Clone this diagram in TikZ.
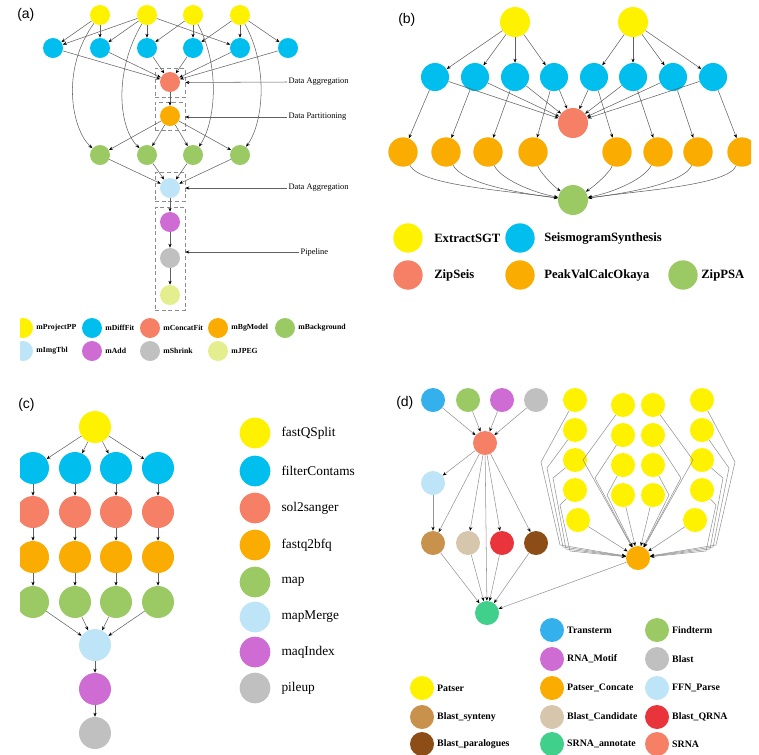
\documentclass[tikz,border=0pt]{standalone}
\usepackage{fontspec}
\setmainfont{Liberation Serif}
\newfontfamily\panelfont{Liberation Sans}
\usetikzlibrary{arrows.meta,positioning}
\definecolor{cyellow}{RGB}{255,242,0}
\definecolor{cblue}{RGB}{0,190,238}
\definecolor{csalmon}{RGB}{245,128,102}
\definecolor{corange}{RGB}{250,172,0}
\definecolor{cgreen}{RGB}{155,202,100}
\definecolor{clightblue}{RGB}{190,228,248}
\definecolor{cpurple}{RGB}{206,108,212}
\definecolor{cgrey}{RGB}{192,192,192}
\definecolor{clime}{RGB}{228,238,142}
\definecolor{ctan}{RGB}{200,146,76}
\definecolor{cbeige}{RGB}{214,198,172}
\definecolor{cred}{RGB}{232,52,58}
\definecolor{cbrown}{RGB}{140,78,22}
\definecolor{cmint}{RGB}{64,208,140}
\definecolor{csky}{RGB}{52,176,236}

\begin{document}
\begin{tikzpicture}[x=0.75pt,y=0.75pt,yscale=-1,xscale=1,
  job/.style={circle,inner sep=0pt,minimum size=#1},
  flow/.style={draw=black!62,line width=0.4pt,-{Stealth[length=3pt,width=2.4pt,color=black]}},
  flowd/.style={flow,draw=black!42},
  grpbox/.style={draw=black!45,densely dashed,line width=0.4pt,inner sep=0pt},
  note/.style={anchor=west,inner sep=1pt,font=\fontsize{6.3}{7}\selectfont},
  legA/.style={inner sep=0pt,font=\fontsize{5.8}{7}\selectfont\bfseries},
  legB/.style={anchor=west,inner sep=0pt,font=\fontsize{9.5}{11}\selectfont\bfseries},
  legC/.style={inner sep=0pt,font=\fontsize{10}{12}\selectfont},
  legD/.style={inner sep=0pt,font=\fontsize{7.4}{9}\selectfont\bfseries},
  panel/.style={anchor=west,inner sep=0pt,font=\panelfont\fontsize{10.5}{12}\selectfont}]
\useasboundingbox (0,0) rectangle (759,754);

% Panel labels
\node[panel] (la) at (17,15) {(a)};
\node[panel] (lb) at (398,20) {(b)};
\node[panel] (lc) at (18,405) {(c)};
\node[panel] (ld) at (396,403) {(d)};

\begin{scope}
\clip (20,0) rectangle (751,754);

%%%%%%%% (a)
\foreach \i/\x in {1/100,2/147,3/193,4/240}
  \node[job=15pt,fill=cyellow] (ay\i) at (\x,15) {};
\foreach \i/\x in {1/53,2/100,3/147,4/193,5/240,6/288}
  \node[job=15pt,fill=cblue] (ab\i) at (\x,48) {};
\foreach \i/\x in {1/100,2/147,3/193,4/240}
  \node[job=15pt,fill=cgreen] (ag\i) at (\x,155) {};
\node[job=15pt,fill=csalmon] (ac) at (170,82) {};
\node[job=15pt,fill=corange] (ao) at (170,116) {};
\node[job=15pt,fill=clightblue] (ai) at (170,188) {};
\node[job=15pt,fill=cpurple] (ad) at (170,222) {};
\node[job=15pt,fill=cgrey] (as) at (170,258) {};
\node[job=15pt,fill=clime] (aj) at (170,295) {};

%Shape: dashed group boxes
\node[grpbox,minimum width=22.5pt,minimum height=22pt] (abox1) at (170,82.5) {};
\node[grpbox,minimum width=22.5pt,minimum height=21pt] (abox2) at (170,116) {};
\node[grpbox,minimum width=22.5pt,minimum height=22pt] (abox3) at (170,187) {};
\node[grpbox,minimum width=22.5pt,minimum height=77pt] (abox4) at (170,258.5) {};

\foreach \a/\b in {1/1,1/2,2/1,2/2,2/3,2/5,3/3,3/4,4/4,4/5,4/6}
  \draw[flow] (ay\a) -- (ab\b);
\draw[flow] (ay1) .. controls (60,70) and (72,130) .. (ag1);
\draw[flow] (ay2) .. controls (112,75) and (120,130) .. (ag2);
\draw[flow] (ay3) .. controls (222,70) and (214,125) .. (ag3);
\draw[flow] (ay4) .. controls (270,70) and (262,125) .. (ag4);
\foreach \b in {1,...,6}
  \draw[flow] (ab\b) -- (ac);
\draw[flow] (ac) -- (ao);
\foreach \g in {1,...,4} {
  \draw[flow] (ao) -- (ag\g);
  \draw[flow] (ag\g) -- (ai);
}
\draw[flow] (ai) -- (ad);
\draw[flow] (ad) -- (as);
\draw[flow] (as) -- (aj);

% Text Node
\node[note] (an1) at (287,82) {Data Aggregation};
\node[note] (an2) at (287,117) {Data Partitioning};
\node[note] (an3) at (287,188) {Data Aggregation};
\node[note] (an4) at (299,252) {Pipeline};
\draw[flow] (an1.west) -- (abox1.east);
\draw[flow] (an2.west) -- (abox2.east |- an2.west);
\draw[flow] (an3.west) -- (abox3.east |- an3.west);
\draw[flow] (an4.west) -- (abox4.east |- an4.west);

% legend (a)
\foreach \n/\x/\y/\c/\t in {1/23/328/cyellow/mProjectPP,2/92/328/cblue/mDiffFit,
    3/150/328/csalmon/mConcatFit,4/218/328/corange/mBgModel,5/285/328/cgreen/mBackground,
    6/23/351/clightblue/mImgTbl,7/92/351/cpurple/mAdd,8/150/351/cgrey/mShrink,9/218/351/clime/mJPEG} {
  \node[job=15pt,fill=\c] (ak\n) at (\x,\y) {};
  \node[legA,right=2.2pt of ak\n] (akt\n) {\t};
}

%%%%%%%% (b)
\foreach \i/\x in {1/515,2/633}
  \node[job=22.5pt,fill=cyellow] (by\i) at (\x,22) {};
\foreach \i/\x in {1/435,2/475,3/515,4/554,5/594,6/633,7/673,8/713}
  \node[job=21pt,fill=cblue] (bs\i) at (\x,77) {};
\foreach \i/\x in {1/403,2/446,3/488,4/533,5/617,6/658,7/698,8/742}
  \node[job=22pt,fill=corange] (bo\i) at (\x,152) {};
\node[job=22.5pt,fill=csalmon] (bz) at (573,123) {};
\node[job=22.5pt,fill=cgreen] (bp) at (573,200) {};

\foreach \i in {1,...,4}
  \draw[flow] (by1) -- (bs\i);
\foreach \i in {5,...,8}
  \draw[flow] (by2) -- (bs\i);
\foreach \i in {1,...,8} {
  \draw[flow] (bs\i) -- (bz);
  \draw[flow] (bs\i) -- (bo\i);
}
\draw[flow] (bo1) .. controls (420,185) and (500,190) .. (bp);
\draw[flow] (bo2) .. controls (462,182) and (510,192) .. (bp);
\draw[flow] (bo3) .. controls (500,178) and (530,192) .. (bp);
\draw[flow] (bo4) .. controls (540,172) and (552,185) .. (bp);
\draw[flow] (bo5) .. controls (610,172) and (596,185) .. (bp);
\draw[flow] (bo6) .. controls (645,178) and (616,192) .. (bp);
\draw[flow] (bo7) .. controls (684,182) and (636,192) .. (bp);
\draw[flow] (bo8) .. controls (728,185) and (646,190) .. (bp);

% legend (b)
\node[job=22pt,fill=cyellow] (bk1) at (408,238) {};
\node[legB] (bkt1) at (434,238) {ExtractSGT};
\node[job=22pt,fill=cblue] (bk2) at (520,238) {};
\node[legB] (bkt2) at (544,238) {SeismogramSynthesis};
\node[job=22pt,fill=csalmon] (bk3) at (408,275) {};
\node[legB] (bkt3) at (434,275) {ZipSeis};
\node[job=22pt,fill=corange] (bk4) at (520,275) {};
\node[legB] (bkt4) at (544,275) {PeakValCalcOkaya};
\node[job=22pt,fill=cgreen] (bk5) at (683,275) {};
\node[legB] (bkt5) at (701,275) {ZipPSA};

%%%%%%%% (c)
\node[job=24pt,fill=cyellow] (cy) at (95,427) {};
\node[job=24pt,fill=clightblue] (cm) at (95,645) {};
\node[job=24pt,fill=cpurple] (ci) at (95,689) {};
\node[job=24pt,fill=cgrey] (cu) at (95,733) {};
\foreach \i/\x in {1/33,2/75,3/116,4/158} {
  \node[job=24pt,fill=cblue] (cb\i) at (\x,468) {};
  \node[job=24pt,fill=csalmon] (cr\i) at (\x,512) {};
  \node[job=24pt,fill=corange] (co\i) at (\x,557) {};
  \node[job=24pt,fill=cgreen] (cg\i) at (\x,602) {};
  \draw[flow] (cy) -- (cb\i);
  \draw[flow] (cb\i) -- (cr\i);
  \draw[flow] (cr\i) -- (co\i);
  \draw[flow] (co\i) -- (cg\i);
  \draw[flow] (cg\i) -- (cm);
}
\draw[flow] (cm) -- (ci);
\draw[flow] (ci) -- (cu);

% legend (c)
\foreach \n/\y/\c/\t in {1/433/cyellow/fastQSplit,2/471/cblue/filterContams,3/508/csalmon/sol2sanger,
    4/545/corange/fastq2bfq,5/582/cgreen/map,6/617/clightblue/mapMerge,7/652/cpurple/maqIndex,8/688/cgrey/pileup} {
  \node[job=23pt,fill=\c] (ck\n) at (255,\y) {};
  \node[legC,right=8pt of ck\n] (ckt\n) {\t};
}

%%%%%%%% (d)
\foreach \i/\x/\c in {1/433/csky,2/468/cgreen,3/502/cpurple,4/536/cgrey}
  \node[job=18pt,fill=\c] (dt\i) at (\x,400) {};
\foreach \i/\x/\c in {1/433/ctan,2/468/cbeige,3/502/cred,4/536/cbrown}
  \node[job=18pt,fill=\c] (db\i) at (\x,543) {};
\node[job=18pt,fill=csalmon] (ds) at (485,443) {};
\node[job=18pt,fill=clightblue] (df) at (433,483) {};
\node[job=18pt,fill=cmint] (da) at (487,613) {};
\node[job=18pt,fill=corange] (dc) at (638,558) {};

% Patser jobs
\foreach \i/\x/\y in {1/575/400,2/575/430,3/575/460,4/575/490,5/578/520,
    6/623/405,7/623/435,8/623/465,9/623/495,
    10/653/405,11/653/435,12/653/465,13/653/495,
    14/702/400,15/702/430,16/702/460,17/702/490,18/695/520}
  \node[job=18pt,fill=cyellow] (dp\i) at (\x,\y) {};

\foreach \i in {1,...,4} {
  \draw[flowd] (dt\i) -- (ds);
  \draw[flowd] (ds) -- (db\i);
  \draw[flowd] (db\i) -- (da);
}
\draw[flowd] (ds) -- (df);
\draw[flowd] (df) -- (db1);
\draw[flowd] (ds) -- (da);
\draw[flowd] (dc) -- (da);

% fan into Patser_Concate
\foreach \i/\ax/\ay/\bx/\by in {1/541/462/560/545,2/547/468/563/547,3/553/478/566/549,4/560/505/570/551,
    14/735/462/716/545,15/729/468/713/547,16/723/478/710/549,17/716/505/706/551}
  \draw[flowd] (dp\i) -- (\ax,\ay) -- (\bx,\by) -- (dc);
\foreach \i/\ax/\ay in {6/583/460,7/595/478,8/607/495,10/693/460,11/681/478,12/669/495}
  \draw[flowd] (dp\i) -- (\ax,\ay) -- (dc);
\foreach \i in {5,9,13,18}
  \draw[flowd] (dp\i) -- (dc);

% legend (d)
\foreach \n/\x/\y/\c/\t in {1/422/688/cyellow/Patser,2/422/717/ctan/Blast\_synteny,3/422/744/cbrown/Blast\_paralogues,
    4/552/630/csky/Transterm,5/552/659/cpurple/RNA\_Motif,6/552/688/corange/Patser\_Concate,
    7/552/717/cbeige/Blast\_Candidate,8/552/744/cmint/SRNA\_annotate,
    9/657/630/cgreen/Findterm,10/657/659/cgrey/Blast,11/657/688/clightblue/FFN\_Parse,
    12/657/717/cred/Blast\_QRNA,13/657/744/csalmon/SRNA} {
  \node[job=18pt,fill=\c] (dk\n) at (\x,\y) {};
  \node[legD,right=2pt of dk\n] (dkt\n) {\t};
}
\end{scope}
\end{tikzpicture}
\end{document}
